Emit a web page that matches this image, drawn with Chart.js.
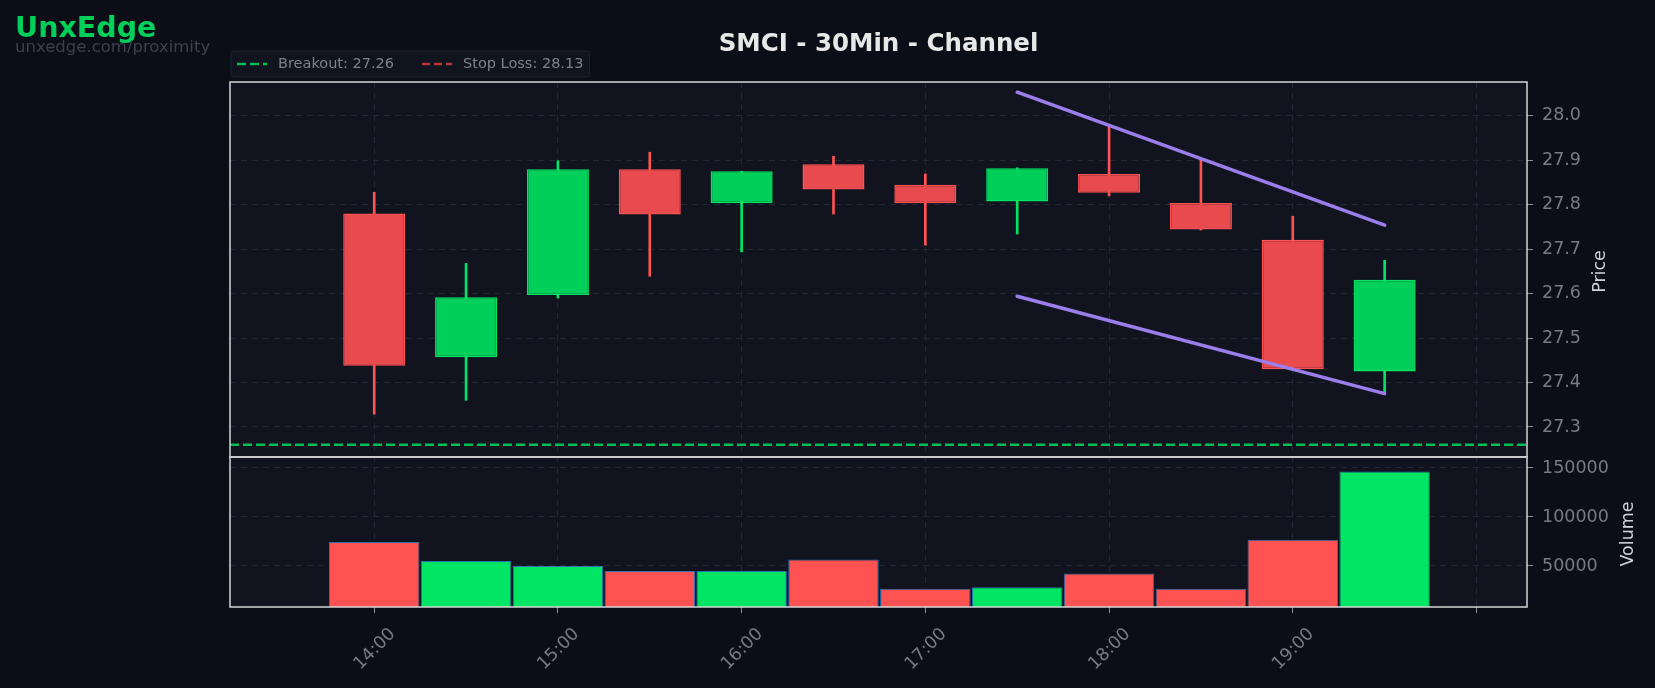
<!DOCTYPE html>
<html>
<head>
<meta charset="utf-8">
<title>SMCI - 30Min - Channel</title>
<script src="https://cdn.jsdelivr.net/npm/chart.js@4.4.1/dist/chart.umd.min.js"></script>
<style>
  html, body { margin: 0; padding: 0; background: #0b0e17; }
  #wrap { width: 1655px; height: 688px; }
</style>
</head>
<body>
<div id="wrap"><canvas id="chart" width="1655" height="688"></canvas></div>
<script>
// 30 minute bars, SMCI
const times  = ['14:00', '14:30', '15:00', '15:30', '16:00', '16:30', '17:00', '17:30', '18:00', '18:30', '19:00', '19:30'];
const open   = [27.780, 27.457, 27.597, 27.880, 27.803, 27.891, 27.845, 27.807, 27.869, 27.804, 27.721, 27.425];
const high   = [27.828, 27.668, 27.899, 27.918, 27.875, 27.909, 27.869, 27.883, 27.975, 27.902, 27.774, 27.675];
const low    = [27.329, 27.360, 27.590, 27.639, 27.694, 27.779, 27.709, 27.734, 27.820, 27.743, 27.429, 27.375];
const close  = [27.438, 27.592, 27.880, 27.778, 27.875, 27.834, 27.803, 27.882, 27.827, 27.744, 27.430, 27.631];
const volume = [74500, 55100, 49900, 44900, 44900, 56500, 26900, 28300, 42300, 26900, 76900, 146300];

// channel lines (start / end bar, price)
const channelTimes = ['17:30', '19:30'];
const channelUpper = [28.053, 27.754];
const channelLower = [27.594, 27.375];

const breakout = 27.26;
const stopLoss = 28.13;

// axis ranges and ticks
const xMin = -1.57, xMax = 12.55;
const priceMin = 27.2325, priceMax = 28.076;
const volMin = 8160, volMax = 161200;
const volTicks = [50000, 100000, 150000];

const GREEN = '#00e664', GREEN_BODY = '#00d05a';
const RED = '#ff5252', RED_BODY = '#e84a4e';
const up = open.map((o, i) => close[i] >= o);
const idx = t => times.indexOf(t);

const gridColor = '#232735';
const tickColor = '#767b87';
Chart.defaults.font.family = '"DejaVu Sans", sans-serif';

const panes = {
    id: 'panes',
    beforeDraw(chart) {
        const { ctx, chartArea: a } = chart;
        ctx.save();
        ctx.fillStyle = '#0b0e17';
        ctx.fillRect(0, 0, chart.width, chart.height);
        ctx.fillStyle = '#11141f';
        ['y', 'yv'].forEach(id => {
            const s = chart.scales[id];
            ctx.fillRect(a.left, s.top, a.width, s.bottom - s.top);
        });
        ctx.restore();
    },
    afterDatasetsDraw(chart) {
        const { ctx, chartArea: a } = chart;
        ctx.save();
        ctx.strokeStyle = '#d6d6d6';
        ctx.lineWidth = 1.5;
        ['y', 'yv'].forEach(id => {
            const s = chart.scales[id];
            ctx.strokeRect(a.left, s.top, a.width, s.bottom - s.top);
        });
        ctx.restore();
    },
    afterDraw(chart) {
        const { ctx } = chart;
        ctx.save();
        // brand
        ctx.textAlign = 'left';
        ctx.textBaseline = 'alphabetic';
        ctx.fillStyle = '#00d05a';
        ctx.font = 'bold 28.5px "DejaVu Sans"';
        ctx.fillText('UnxEdge', 15, 37);
        ctx.fillStyle = '#3c414d';
        ctx.font = '16.5px "DejaVu Sans"';
        ctx.fillText('unxedge.com/proximity', 15, 52);
        // axis titles, rotated like the reference
        ctx.fillStyle = '#cfd2d6';
        ctx.font = '17.5px "DejaVu Sans"';
        ctx.textAlign = 'center';
        ctx.textBaseline = 'middle';
        [['y', 'Price', 73], ['yv', 'Volume', 101.5]].forEach(([id, txt, dx]) => {
            const s = chart.scales[id];
            ctx.save();
            ctx.translate(s.left + dx, (s.top + s.bottom) / 2 + 2);
            ctx.rotate(-Math.PI / 2);
            ctx.fillText(txt, 0, 0);
            ctx.restore();
        });
        ctx.restore();
    }
};

const refLegend = {
    id: 'refLegend',
    afterDraw(chart) {
        const { ctx, chartArea } = chart;
        const items = chart.data.datasets.filter(d => d.inLegend);
        ctx.save();
        ctx.font = '14.5px "DejaVu Sans"';
        const markerW = 30, gapText = 11, gapItem = 28, padX = 6;
        let w = padX * 2;
        items.forEach((d, i) => {
            w += markerW + gapText + ctx.measureText(d.label).width + (i ? gapItem : 0);
        });
        const x0 = chartArea.left + 1, y0 = 51, h = 26;
        ctx.fillStyle = '#10141e';
        ctx.strokeStyle = '#1e2331';
        ctx.lineWidth = 1;
        ctx.beginPath();
        ctx.roundRect(x0, y0, w, h, 3);
        ctx.fill();
        ctx.stroke();
        let x = x0 + padX;
        const cy = y0 + h / 2;
        items.forEach(d => {
            ctx.strokeStyle = d.borderColor;
            ctx.lineWidth = 2.5;
            ctx.setLineDash(d.borderDash);
            ctx.beginPath();
            ctx.moveTo(x, cy);
            ctx.lineTo(x + markerW, cy);
            ctx.stroke();
            ctx.setLineDash([]);
            ctx.fillStyle = '#7d828d';
            ctx.textAlign = 'left';
            ctx.textBaseline = 'middle';
            ctx.fillText(d.label, x + markerW + gapText, cy);
            x += markerW + gapText + ctx.measureText(d.label).width + gapItem;
        });
        ctx.restore();
    }
};

const ctx = document.getElementById('chart').getContext('2d');
const chart = new Chart(ctx, {
    type: 'bar',
    data: {
        datasets: [
            {
                type: 'line',
                data: channelTimes.map((t, i) => ({ x: idx(t), y: channelUpper[i] })),
                borderColor: '#9b7deb', borderWidth: 3.5, borderCapStyle: 'round',
                pointRadius: 0, yAxisID: 'y'
            },
            {
                type: 'line',
                data: channelTimes.map((t, i) => ({ x: idx(t), y: channelLower[i] })),
                borderColor: '#9b7deb', borderWidth: 3.5, borderCapStyle: 'round',
                pointRadius: 0, yAxisID: 'y'
            },
            {
                type: 'line', label: 'Breakout: ' + breakout.toFixed(2), inLegend: true,
                data: [{ x: xMin, y: breakout }, { x: xMax, y: breakout }],
                borderColor: 'rgba(0, 220, 95, 0.85)', borderWidth: 2.5, borderDash: [9, 4],
                pointRadius: 0, yAxisID: 'y'
            },
            {
                type: 'line', label: 'Stop Loss: ' + stopLoss.toFixed(2), inLegend: true,
                data: [{ x: xMin, y: stopLoss }, { x: xMax, y: stopLoss }],
                borderColor: 'rgba(220, 60, 60, 0.85)', borderWidth: 2.5, borderDash: [8, 4],
                pointRadius: 0, yAxisID: 'y'
            },
            {
                // candle bodies
                data: times.map((t, i) => ({ x: i, y: [open[i], close[i]] })),
                backgroundColor: up.map(u => u ? GREEN_BODY : RED_BODY),
                borderColor: up.map(u => u ? GREEN : RED),
                borderWidth: 1.5, borderSkipped: false,
                grouped: false, categoryPercentage: 1, barPercentage: 0.675,
                yAxisID: 'y'
            },
            {
                // wicks
                data: times.map((t, i) => ({ x: i, y: [low[i], high[i]] })),
                backgroundColor: up.map(u => u ? GREEN : RED),
                borderWidth: 0, maxBarThickness: 2,
                grouped: false, categoryPercentage: 1, barPercentage: 1,
                yAxisID: 'y'
            },
            {
                // volume
                data: times.map((t, i) => ({ x: i, y: volume[i] })),
                backgroundColor: up.map(u => u ? GREEN : RED),
                borderColor: '#2b6fae', borderWidth: 1, borderSkipped: false,
                grouped: false, categoryPercentage: 1, barPercentage: 0.985,
                yAxisID: 'yv'
            }
        ]
    },
    options: {
        responsive: false,
        animation: false,
        layout: { padding: { left: 230, top: 32, right: 0, bottom: 0 } },
        plugins: {
            legend: { display: false },
            tooltip: { enabled: false },
            title: {
                display: true,
                text: 'SMCI - 30Min - Channel',
                fullSize: false,
                color: '#e8e8e8',
                font: { size: 24.5, weight: 'bold', lineHeight: 1 },
                padding: { top: 0, bottom: 25.5 }
            }
        },
        scales: {
            x: {
                type: 'linear',
                min: xMin, max: xMax, offset: false,
                grid: { color: gridColor, offset: false, tickLength: 6, tickColor: '#8a8f9a' },
                border: { display: false, dash: [6, 5] },
                ticks: {
                    stepSize: 2, includeBounds: false,
                    minRotation: 45, maxRotation: 45,
                    color: tickColor, font: { size: 17.5 },
                    padding: 11, labelOffset: 18.5,
                    callback: v => (times[v] && times[v].endsWith(':00')) ? times[v] : ''
                },
                afterFit: s => { s.height = 81; }
            },
            y: {
                type: 'linear', position: 'right', stack: 'panes', stackWeight: 2.5,
                min: priceMin, max: priceMax, beginAtZero: false,
                grid: { color: gridColor, tickLength: 6, tickColor: '#8a8f9a' },
                border: { display: false, dash: [6, 5] },
                ticks: {
                    stepSize: 0.1, includeBounds: false, padding: 9,
                    color: tickColor, font: { size: 17.5 },
                    callback: v => v.toFixed(1)
                },
                afterFit: s => { s.width = 128; }
            },
            yv: {
                type: 'linear', position: 'right', stack: 'panes', stackWeight: 1,
                min: volMin, max: volMax, beginAtZero: false,
                grid: { color: gridColor, tickLength: 6, tickColor: '#8a8f9a' },
                border: { display: false, dash: [6, 5] },
                ticks: {
                    padding: 9,
                    color: tickColor, font: { size: 17.5 },
                    callback: v => String(v)
                },
                afterBuildTicks: s => { s.ticks = volTicks.map(value => ({ value })); },
                afterFit: s => { s.width = 128; }
            }
        }
    },
    plugins: [panes, refLegend]
});
</script>
</body>
</html>
